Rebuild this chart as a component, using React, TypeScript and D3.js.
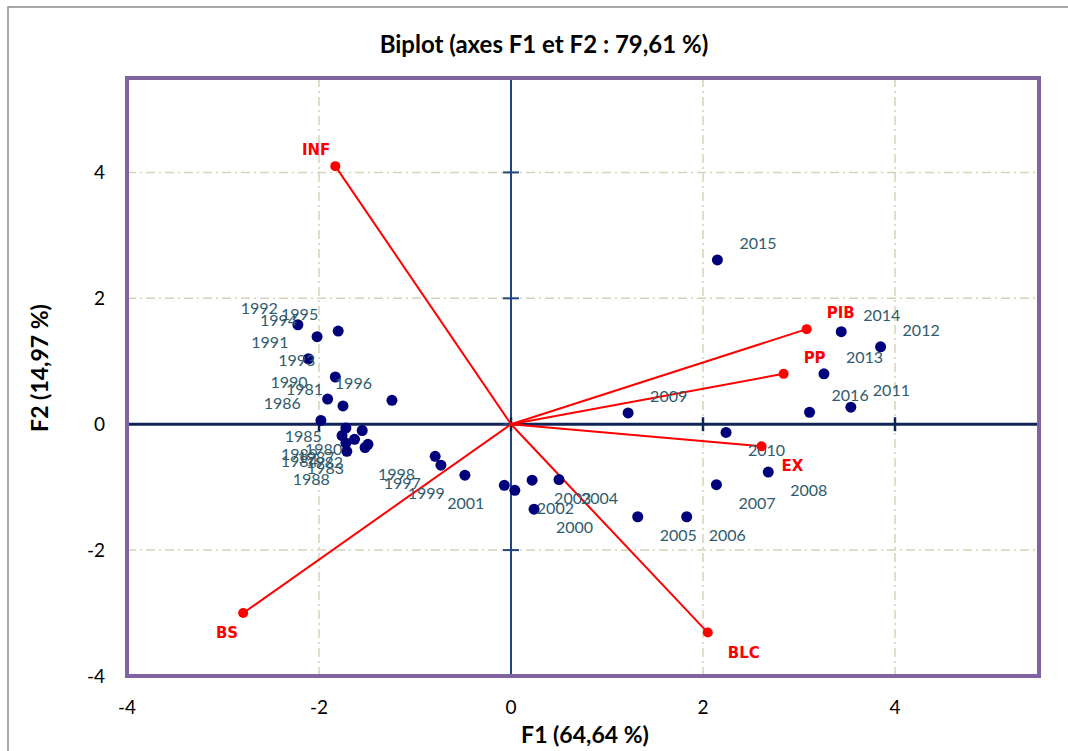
import React from "react";
import * as d3 from "d3";

const years = [
  "1980","1981","1982","1983","1984","1985","1986","1987","1988","1989",
  "1990","1991","1992","1993","1994","1995","1996","1997","1998","1999",
  "2000","2001","2002","2003","2004","2005","2006","2007","2008","2009",
  "2010","2011","2012","2013","2014","2015","2016",
];
const obsF1 = [
  -1.55,-1.75,-1.52,-1.49,-1.72,-1.72,-1.98,-1.63,-1.71,-1.76,
  -1.91,-2.11,-2.22,-1.83,-2.02,-1.80,-1.24,-0.73,-0.79,-0.48,
  0.24,-0.07,0.04,0.22,0.50,1.32,1.83,2.14,2.68,1.22,
  2.24,3.54,3.85,3.26,3.44,2.15,3.11,
];
const obsF2 = [
  -0.10,0.29,-0.37,-0.32,-0.30,-0.06,0.06,-0.24,-0.43,-0.18,
  0.40,1.04,1.58,0.75,1.39,1.48,0.38,-0.65,-0.51,-0.81,
  -1.35,-0.97,-1.05,-0.89,-0.88,-1.47,-1.47,-0.96,-0.76,0.18,
  -0.13,0.27,1.23,0.80,1.47,2.61,0.19,
];

const variables = ["INF", "PIB", "PP", "EX", "BLC", "BS"];
const varF1 = [-1.83, 3.08, 2.84, 2.61, 2.05, -2.79];
const varF2 = [4.10, 1.51, 0.80, -0.35, -3.31, -3.00];

const xTicks = [-4, -2, 0, 2, 4];
const yTicks = [-4, -2, 0, 2, 4];
const gridX = [-2, 2, 4];
const gridY = [-2, 2, 4];

const title = "Biplot (axes F1 et F2 : 79,61 %)";
const xTitle = "F1 (64,64 %)";
const yTitle = "F2 (14,97 %)";

// small label nudges (px) for the crowded cluster, layout only
const labelNudge: Record<string, [number, number]> = {
  "1985": [-4, -10],
  "1989": [-4, 0],
  "1982": [-2, -4],
  "1984": [-8, 0],
  "1983": [-4, 6],
  "1988": [3, 10],
};

const W = 1068;
const H = 751;
const L = 127, R = 1039, T = 78, B = 676;
const FONT = "Lato, 'Open Sans', sans-serif";

export default function App() {
  const xs = d3.scaleLinear().domain([-4, 5.5]).range([L, R]);
  const ys = d3.scaleLinear().domain([-4, 5.5]).range([B, T]);
  const x0 = xs(0);
  const y0 = ys(0);
  const gridColor = "#D8D2B8";

  return (
    <div style={{ position: "fixed", left: 0, top: 0, width: W, height: H, background: "#fff" }}>
      <svg width={W} height={H} style={{ display: "block" }}>
        <rect x={0} y={0} width={W} height={H} fill="#fff" />
        <rect x={8} y={7} width={W + 20} height={H + 20} fill="none" stroke="#8c8c8c" strokeWidth={1.5} />

        <text x={544} y={53} textAnchor="middle" fontFamily={FONT} fontWeight={700} fontSize={24} fill="#000">
          {title}
        </text>

        {gridX.map((v) => (
          <line key={"gx" + v} x1={xs(v)} x2={xs(v)} y1={T} y2={B} stroke={gridColor} strokeWidth={1.5} strokeDasharray="9,4,2,4" />
        ))}
        {gridY.map((v) => (
          <line key={"gy" + v} x1={L} x2={R} y1={ys(v)} y2={ys(v)} stroke={gridColor} strokeWidth={1.5} strokeDasharray="9,4,2,4" />
        ))}

        <line x1={x0} x2={x0} y1={T} y2={B} stroke="#1F4682" strokeWidth={2} />
        <line x1={L} x2={R} y1={y0} y2={y0} stroke="#0E2356" strokeWidth={3} />
        {xTicks.map((v) => (
          <line key={"xt" + v} x1={xs(v)} x2={xs(v)} y1={y0 - 7} y2={y0 + 7} stroke="#0E2356" strokeWidth={2.5} />
        ))}
        {yTicks.map((v) => (
          <line key={"yt" + v} x1={x0 - 8} x2={x0 + 8} y1={ys(v)} y2={ys(v)} stroke="#1F4682" strokeWidth={2} />
        ))}

        {xTicks.map((v) => (
          <text key={"xl" + v} x={xs(v)} y={714} textAnchor="middle" fontFamily={FONT} fontSize={19} fill="#000">
            {v}
          </text>
        ))}
        {yTicks.map((v) => (
          <text key={"yl" + v} x={105} y={ys(v) + 7} textAnchor="end" fontFamily={FONT} fontSize={19} fill="#000">
            {v}
          </text>
        ))}

        <text x={585} y={743} textAnchor="middle" fontFamily={FONT} fontWeight={700} fontSize={23} fill="#000">
          {xTitle}
        </text>
        <text transform={`translate(48, 368) rotate(-90)`} textAnchor="middle" fontFamily={FONT} fontWeight={700} fontSize={23} fill="#000">
          {yTitle}
        </text>

        {variables.map((v, i) => (
          <line key={"vl" + v} x1={x0} y1={y0} x2={xs(varF1[i])} y2={ys(varF2[i])} stroke="#FF0000" strokeWidth={2} />
        ))}

        {years.map((yr, i) => (
          <circle key={"p" + yr} cx={xs(obsF1[i])} cy={ys(obsF2[i])} r={5.5} fill="#00007A" />
        ))}
        {years.map((yr, i) => {
          const px = xs(obsF1[i]);
          const py = ys(obsF2[i]);
          const left = obsF1[i] < 0;
          const up = obsF2[i] >= 0;
          const n = labelNudge[yr] || [0, 0];
          return (
            <text
              key={"t" + yr}
              x={(left ? px - 20 : px + 22) + n[0]}
              y={(up ? py - 11 : py + 24) + n[1]}
              textAnchor={left ? "end" : "start"}
              fontFamily={FONT}
              fontSize={16}
              fill="#2F5B6D"
            >
              {yr}
            </text>
          );
        })}

        {variables.map((v, i) => (
          <circle key={"vp" + v} cx={xs(varF1[i])} cy={ys(varF2[i])} r={5} fill="#FF0000" />
        ))}
        {variables.map((v, i) => {
          const px = xs(varF1[i]);
          const py = ys(varF2[i]);
          const left = varF1[i] < 0;
          const up = varF2[i] >= 0;
          return (
            <text
              key={"vt" + v}
              x={left ? px - 5 : px + 20}
              y={up ? py - 11 : py + 25}
              textAnchor={left ? "end" : "start"}
              fontFamily="'DejaVu Sans', sans-serif"
              fontWeight={700}
              fontSize={15}
              fill="#FF0000"
            >
              {v}
            </text>
          );
        })}

        <rect x={L} y={T} width={R - L} height={B - T} fill="none" stroke="#8064A2" strokeWidth={4} />
      </svg>
    </div>
  );
}
